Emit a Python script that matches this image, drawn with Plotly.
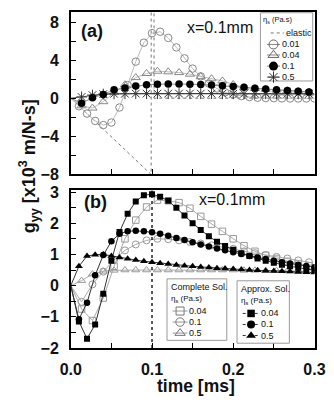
import plotly.graph_objects as go

FONT = "Liberation Sans, Arial, sans-serif"
W, H = 334, 406

# ---------------- data: panel (a) ----------------
t_a_fine = [0.01, 0.02, 0.03, 0.04, 0.05, 0.06, 0.07, 0.08, 0.09, 0.10,
            0.11, 0.12, 0.13, 0.14, 0.15, 0.16, 0.17, 0.18, 0.19, 0.20,
            0.21, 0.22, 0.23, 0.24, 0.25, 0.26, 0.27, 0.28, 0.29, 0.30]
t_a_coarse = [0.0133, 0.0267, 0.04, 0.0533, 0.0667, 0.08, 0.0933, 0.1067, 0.12, 0.1333, 0.1467,
              0.16, 0.1733, 0.1867, 0.2, 0.2133, 0.2267, 0.24, 0.2533, 0.2667, 0.28, 0.2933]
g_a_001 = [-0.85, -1.62, -2.39, -2.83, -2.56, -0.98, 1.38, 3.85, 5.85, 6.85,
           7.0, 6.35, 5.35, 4.2, 3.12, 2.3, 1.55, 1.02, 0.62, 0.4,
           0.22, 0.12, 0.05, 0.02, 0.0, -0.02, -0.03, -0.03, -0.03, -0.02]
g_a_004 = [-0.8, -1.04, -0.37, 0.6, 1.42, 2.17, 2.6, 2.84, 2.78, 2.7, 2.53,
           2.27, 2.05, 1.82, 1.45, 1.12, 1.03, 0.94, 0.86, 0.78, 0.71, 0.64]
g_a_01 = [-0.54, 0.04, 0.4, 0.88, 1.08, 1.29, 1.42, 1.48, 1.5, 1.5, 1.48,
          1.44, 1.38, 1.32, 1.23, 1.14, 1.05, 0.96, 0.88, 0.8, 0.73, 0.66]
g_a_05 = [0.13, 0.33, 0.43, 0.46, 0.47, 0.48, 0.48, 0.48, 0.48, 0.48, 0.48,
          0.48, 0.48, 0.47, 0.47, 0.47, 0.47, 0.47, 0.46, 0.46, 0.46, 0.46]
elastic_t = [0.0, 0.099, 0.099, 0.1025, 0.1025, 0.3]
elastic_g = [0.0, -8.05, 9.3, 9.3, 0.0, 0.0]

# ---------------- data: panel (b) ----------------
t_b_fine = t_a_fine
t_b_coarse = t_a_coarse
g_b_ap004 = [-1.15, -1.7, -1.25, -0.26, 0.8, 1.72, 2.3, 2.7, 2.9, 2.93,
             2.85, 2.72, 2.5, 2.25, 2.0, 1.78, 1.58, 1.41, 1.27, 1.15,
             1.04, 0.95, 0.87, 0.8, 0.73, 0.67, 0.62, 0.57, 0.53, 0.49]
g_b_ap01 = [-1.08, -0.55, 0.33, 0.98, 1.42, 1.66, 1.74, 1.76, 1.74, 1.71,
            1.66, 1.6, 1.53, 1.46, 1.39, 1.32, 1.25, 1.19, 1.13, 1.07,
            1.01, 0.95, 0.9, 0.85, 0.8, 0.75, 0.71, 0.67, 0.63, 0.59]
g_b_ap05 = [0.62, 0.95, 0.99, 1.0, 0.95, 0.9, 0.86, 0.82, 0.78, 0.75,
            0.72, 0.69, 0.66, 0.64, 0.62, 0.6, 0.58, 0.56, 0.55, 0.53,
            0.52, 0.5, 0.49, 0.48, 0.47, 0.46, 0.45, 0.44, 0.43, 0.42]
g_b_co004 = [-0.75, -1.12, -0.4, 0.62, 1.5, 2.1, 2.52, 2.74, 2.72, 2.66, 2.48,
             2.22, 1.97, 1.74, 1.5, 1.28, 1.1, 0.97, 0.87, 0.78, 0.7, 0.64]
g_b_co01 = [-0.52, 0.04, 0.45, 0.82, 1.13, 1.32, 1.45, 1.5, 1.49, 1.45, 1.4,
            1.35, 1.29, 1.24, 1.18, 1.1, 1.04, 0.98, 0.92, 0.87, 0.81, 0.75]
g_b_co05 = [0.16, 0.37, 0.46, 0.49, 0.5, 0.5, 0.5, 0.5, 0.5, 0.5, 0.5,
            0.5, 0.5, 0.5, 0.5, 0.49, 0.49, 0.48, 0.48, 0.47, 0.47, 0.46]
t_ref = 0.1

# ---------------- layout geometry (pixels) ----------------
PX_L, PX_R = 64, 325
A_TOP, A_BOT = 5, 174
B_TOP, B_BOT = 191, 355

fig = go.Figure()


def series(t, v, xa, ya, symbol, size, mcolor, lcolor, ldash="solid", lwidth=1, mlw=1):
    xs = [0.0] + list(t)
    ys = [0.0] + list(v)
    n = len(t)
    fig.add_trace(go.Scatter(
        x=xs, y=ys, xaxis=xa, yaxis=ya, mode="lines+markers", showlegend=False,
        line=dict(color=lcolor, dash=ldash, width=lwidth),
        marker=dict(symbol=symbol, size=[0] + [size] * n, opacity=[0] + [1] * n,
                    color=mcolor, line=dict(color=mcolor, width=mlw)),
        hoverinfo="skip"))


# panel (a)
fig.add_trace(go.Scatter(x=elastic_t, y=elastic_g, xaxis="x", yaxis="y", mode="lines",
                         line=dict(color="#777", dash="dot", width=1), showlegend=False))
series(t_a_fine, g_a_001, "x", "y", "circle-open", 7.5, "#888", "#bbb")
series(t_a_coarse, g_a_004, "x", "y", "triangle-up-open", 8, "#888", "#bbb")
series(t_a_coarse, g_a_05, "x", "y", "asterisk-open", 9, "#333", "#666")
series(t_a_coarse, g_a_01, "x", "y", "circle", 7.5, "#000", "#888", mlw=0)

# panel (b)
fig.add_shape(type="line", xref="x2", yref="y2 domain", x0=t_ref, x1=t_ref, y0=0, y1=1,
              line=dict(color="#000", dash="dot", width=1.3))
series(t_b_coarse, g_b_co004, "x2", "y2", "square-open", 6.5, "#999", "#aaa")
series(t_b_coarse, g_b_co01, "x2", "y2", "circle-open", 7, "#999", "#aaa")
series(t_b_coarse, g_b_co05, "x2", "y2", "triangle-up-open", 7, "#999", "#aaa")
series(t_b_fine, g_b_ap004, "x2", "y2", "square", 6, "#000", "#333", mlw=0)
series(t_b_fine, g_b_ap01, "x2", "y2", "circle", 6.5, "#000", "#333", mlw=0)
series(t_b_fine, g_b_ap05, "x2", "y2", "triangle-up", 7, "#000", "#333", mlw=0)


# ---------------- custom legends (pixel overlay axes x3/y3) ----------------
def text(x, y, s, size, bold=False, anchor="left", angle=0, color="#111"):
    fig.add_annotation(x=x, y=y, xref="x3", yref="y3", text=s, showarrow=False,
                       xanchor=anchor, yanchor="middle", textangle=angle, borderpad=0,
                       font=dict(family=FONT, size=size, color=color,
                                 weight="bold" if bold else "normal"))


def box(x0, y0, x1, y1):
    fig.add_shape(type="rect", xref="x3", yref="y3", x0=x0, x1=x1, y0=y0, y1=y1,
                  line=dict(color="#999", width=1), fillcolor="white", layer="below")


def entry(xc, yc, symbol, mcolor, lcolor, ldash, label, size, halfw=7, fsize=9, mlw=1):
    fig.add_trace(go.Scatter(x=[xc - halfw, xc + halfw], y=[yc, yc], xaxis="x3", yaxis="y3",
                             mode="lines", line=dict(color=lcolor, dash=ldash, width=1),
                             showlegend=False, hoverinfo="skip"))
    if symbol:
        fig.add_trace(go.Scatter(x=[xc], y=[yc], xaxis="x3", yaxis="y3", mode="markers",
                                 marker=dict(symbol=symbol, size=size, color=mcolor,
                                             line=dict(color=mcolor, width=mlw)),
                                 showlegend=False, hoverinfo="skip"))
    text(xc + halfw + 1, yc, label, fsize)


# legend (a)
box(267, 6, 323, 77)
text(269, 14, "η<sub>s</sub> (Pa.s)", 7.5)
entry(285, 27, None, None, "#777", "dot", "elastic", 0)
entry(281, 39, "circle-open", "#666", "#888", "solid", "0.01", 9)
entry(281, 50, "triangle-up-open", "#666", "#888", "solid", "0.04", 9.5)
entry(281, 61.5, "circle", "#000", "#888", "solid", "0.1", 9, mlw=0)
entry(281, 73, "asterisk-open", "#333", "#888", "solid", "0.5", 9.5)

# legend complete solution
box(167, 283, 231, 347)
text(170, 292, "Complete Sol.", 9)
text(170, 304, "η<sub>s</sub> (Pa.s)", 8)
entry(181, 316.5, "square-open", "#777", "#999", "solid", "0.04", 8, halfw=8)
entry(181, 328, "circle-open", "#777", "#999", "solid", "0.1", 8.5, halfw=8)
entry(181, 339.5, "triangle-up-open", "#777", "#999", "solid", "0.5", 9, halfw=8)

# legend approximate solution
box(242, 285, 298, 350)
text(245, 294, "Approx. Sol.", 9)
text(245, 306, "η<sub>s</sub> (Pa.s)", 8)
entry(257, 319, "square", "#000", "#333", "dot", "0.04", 7.5, halfw=9, mlw=0)
entry(257, 330.5, "circle", "#000", "#333", "dot", "0.1", 8, halfw=9, mlw=0)
entry(257, 342, "triangle-up", "#000", "#333", "dot", "0.5", 8.5, halfw=9, mlw=0)

# panel labels and axis titles
text(87, 25, "(a)", 18, bold=True, anchor="center")
text(224, 21, "x=0.1mm", 16, anchor="center")
text(90, 203, "(b)", 18, bold=True, anchor="center")
text(237, 200, "x=0.1mm", 16, anchor="center")
text(198, 395, "time [ms]", 17.5, bold=True, anchor="center")
text(19, 166, "g<sub>yy</sub> [x10<sup>3</sup> m/N-s]", 18, bold=True, anchor="center", angle=-90)

# ---------------- axes ----------------
xdom = [PX_L / W, PX_R / W]
common = dict(showline=True, mirror=True, linecolor="#000", linewidth=1.6, showgrid=False,
              zeroline=False, ticks="inside", ticklen=5, tickwidth=1.3, tickcolor="#000",
              tickfont=dict(family=FONT, size=16, color="#111", weight="bold"))

fig.update_layout(
    width=W, height=H, margin=dict(l=0, r=0, t=0, b=0),
    paper_bgcolor="white", plot_bgcolor="rgba(0,0,0,0)", showlegend=False,
    xaxis=dict(domain=xdom, anchor="y", range=[0, 0.3002], dtick=0.05, tick0=0,
               showticklabels=False, **common),
    yaxis=dict(domain=[1 - A_BOT / H, 1 - A_TOP / H], anchor="x", range=[-8, 9.1],
               dtick=4, tick0=0, ticklabelstandoff=7,
               minor=dict(dtick=2, tick0=0, ticks="inside", ticklen=5, tickwidth=1.3,
                          tickcolor="#000", showgrid=False), **common),
    xaxis2=dict(domain=xdom, anchor="y2", range=[0, 0.3002], dtick=0.1, tick0=0,
                tickformat=".1f", ticklabelstandoff=6, ticklabeloverflow="allow",
                minor=dict(dtick=0.05, tick0=0, ticks="inside", ticklen=5, tickwidth=1.3,
                           tickcolor="#000", showgrid=False), **common),
    yaxis2=dict(domain=[1 - B_BOT / H, 1 - B_TOP / H], anchor="x2", range=[-2, 3.05],
                dtick=1, tick0=0, ticklabelstandoff=7,
                minor=dict(dtick=0.5, tick0=0, ticks="inside", ticklen=5, tickwidth=1.3,
                           tickcolor="#000", showgrid=False), **common),
    xaxis3=dict(domain=[0, 1], anchor="y3", range=[0, W], visible=False, fixedrange=True),
    yaxis3=dict(domain=[0, 1], anchor="x3", range=[H, 0], visible=False, fixedrange=True),
)

fig.write_html("out.html")
